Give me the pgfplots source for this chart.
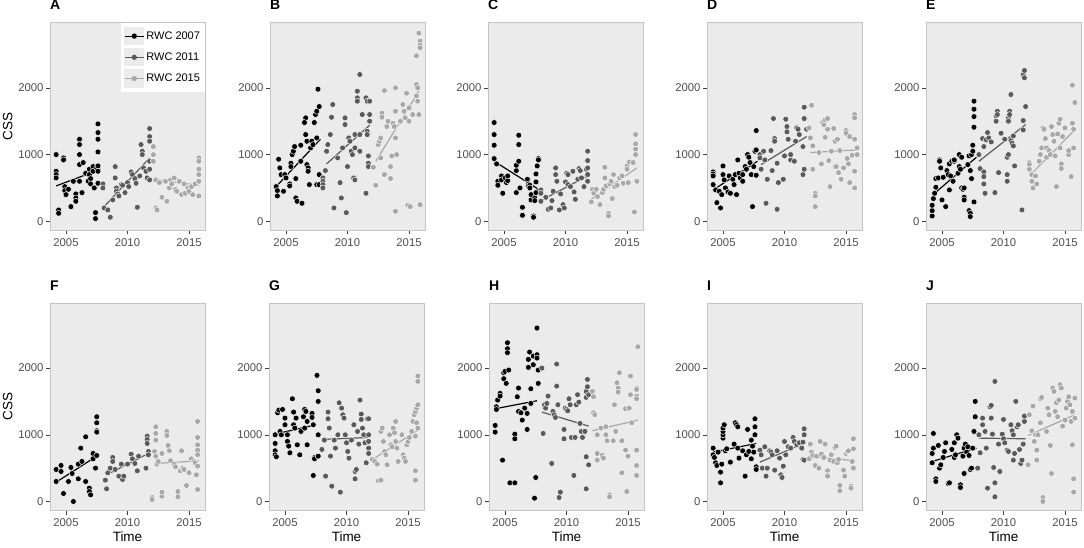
\documentclass[border=0pt]{standalone}
\usepackage{fontspec}
\setmainfont{Liberation Sans}
\usepackage{pgfplots}
\pgfplotsset{compat=1.18}
\definecolor{cA}{HTML}{000000}
\definecolor{cB}{HTML}{5A5A5A}
\definecolor{cC}{HTML}{A8A8A8}
\definecolor{panelbg}{HTML}{EBEBEB}
\definecolor{bordergray}{HTML}{C4C4C4}
\definecolor{tickgray}{HTML}{4D4D4D}
\pgfplotsset{
  panel/.style={
    scale only axis, width=155pt, height=207.5pt,
    xmin=2003.7, xmax=2016.3, ymin=-135, ymax=2975,
    xtick={2005,2010,2015}, ytick={0,1000,2000},
    axis background/.style={fill=panelbg},
    axis line style={draw=bordergray, line width=0.8pt},
    tick pos=left, tick align=outside,
    major tick length=4pt,
    every tick/.style={draw=tickgray!80!black, line width=0.5pt},
    ticklabel style={font=\fontsize{11.3}{12}\selectfont, text=tickgray},
    yticklabel style={xshift=1pt},
    xticklabel style={yshift=-0.5pt},
    /pgf/number format/set thousands separator={},
    /pgf/number format/assume math mode=true,
    title style={at={(0,1)}, anchor=base west, yshift=7pt, inner sep=0pt, font=\fontsize{14}{15}\selectfont\bfseries},
    xlabel style={font=\fontsize{13.5}{14}\selectfont, at={(axis description cs:0.5,-0.125)}, anchor=center},
    ylabel style={font=\fontsize{13.5}{14}\selectfont, at={(axis description cs:-0.272,0.5)}, anchor=center},
  },
  sA/.style={only marks, mark=*, mark size=2.95pt, mark options={draw=white, fill=cA, line width=0.45pt}},
  sB/.style={only marks, mark=*, mark size=2.95pt, mark options={draw=white, fill=cB, line width=0.45pt}},
  sC/.style={only marks, mark=*, mark size=2.95pt, mark options={draw=white, fill=cC, line width=0.45pt}},
  lA/.style={no marks, draw=cA, line width=1.2pt},
  lB/.style={no marks, draw=cB, line width=1.2pt},
  lC/.style={no marks, draw=cC, line width=1.2pt},
}
\begin{document}
\begin{tikzpicture}
\path[use as bounding box] (0,0) rectangle (1084pt,-547pt);

%%%%%%%%%%%%%%%%%%%% A
\begin{axis}[panel, at={(50pt,-22.8pt)}, anchor=north west, title={A}, ylabel={CSS},
  legend style={at={(rel axis cs:0.458,1)}, anchor=north west, draw=none, fill=white,
    font=\fontsize{11}{12}\selectfont, inner xsep=3pt, inner ysep=4pt, row sep=3pt,
    legend cell align=left},
  legend image code/.code={
    \fill[panelbg] (0pt,-8.5pt) rectangle (19pt,8.5pt);
    \draw[mark repeat=2,mark phase=2,#1] plot coordinates {(0pt,0pt) (9.5pt,0pt) (19pt,0pt)};}
  ]
\addlegendimage{cA, line width=1.2pt, mark=*, mark size=2pt, mark options={fill=cA}}
\addlegendentry{RWC 2007}
\addlegendimage{cB, line width=1.2pt, mark=*, mark size=2pt, mark options={fill=cB}}
\addlegendentry{RWC 2011}
\addlegendimage{cC, line width=1.2pt, mark=*, mark size=2pt, mark options={fill=cC}}
\addlegendentry{RWC 2015}
\addplot[sA, forget plot] coordinates {(2004.2,1000) (2004.2,750) (2004.2,700) (2004.2,650) (2004.4,170) (2004.4,120) (2004.8,950) (2004.8,920) (2004.9,520) (2004.9,460) (2005.0,400) (2005.2,480) (2005.4,220) (2005.6,600) (2005.8,410) (2005.8,350) (2005.8,300) (2006.1,1230) (2006.1,1150) (2006.1,1000) (2006.1,850) (2006.1,600) (2006.3,430) (2006.4,880) (2006.6,720) (2006.8,600) (2006.9,780) (2006.9,700) (2007.0,640) (2007.0,560) (2007.2,820) (2007.2,750) (2007.3,500) (2007.4,130) (2007.4,40) (2007.5,800) (2007.6,1460) (2007.6,1330) (2007.6,1230) (2007.6,1040) (2007.6,830) (2007.6,750) (2007.6,570)};
\addplot[lA, forget plot] coordinates {(2004.2,530) (2007.8,780)};
\addplot[sB, forget plot] coordinates {(2008.0,560) (2008.0,500) (2008.1,200) (2008.4,170) (2008.6,60) (2008.8,320) (2009.0,820) (2009.0,650) (2009.1,500) (2009.1,450) (2009.2,410) (2009.3,380) (2009.5,550) (2009.6,540) (2009.8,430) (2010.0,580) (2010.1,520) (2010.3,740) (2010.4,700) (2010.6,640) (2010.7,570) (2010.8,210) (2011.0,680) (2011.1,1150) (2011.2,1050) (2011.2,1000) (2011.3,800) (2011.5,750) (2011.6,650) (2011.8,1390) (2011.8,1270) (2011.8,1200) (2011.8,900) (2011.8,780) (2011.8,620)};
\addplot[lB, forget plot] coordinates {(2008.1,220) (2011.8,950)};
\addplot[sC, forget plot] coordinates {(2012.1,1120) (2012.1,1000) (2012.1,900) (2012.3,200) (2012.4,170) (2012.3,620) (2012.6,580) (2012.8,360) (2013.1,600) (2013.2,300) (2013.4,500) (2013.5,620) (2013.6,560) (2013.8,650) (2013.9,480) (2014.0,450) (2014.2,600) (2014.4,400) (2014.6,560) (2014.7,420) (2014.9,500) (2015.0,450) (2015.2,520) (2015.3,400) (2015.5,560) (2015.8,950) (2015.8,900) (2015.8,780) (2015.8,700) (2015.8,600) (2015.8,380)};
\addplot[lC, forget plot] coordinates {(2012.1,630) (2015.8,540)};
\end{axis}

%%%%%%%%%%%%%%%%%%%% B
\begin{axis}[panel, at={(270pt,-22.8pt)}, anchor=north west, title={B}]
\addplot[sA] coordinates {(2004.2,520) (2004.3,460) (2004.3,380) (2004.4,930) (2004.5,800) (2004.6,700) (2004.8,450) (2004.9,700) (2005.0,650) (2005.3,560) (2005.3,530) (2005.4,870) (2005.4,820) (2005.5,1000) (2005.6,1050) (2005.7,1120) (2005.8,640) (2005.8,350) (2005.9,300) (2006.2,1140) (2006.2,900) (2006.3,270) (2006.6,1550) (2006.5,1480) (2006.6,1300) (2006.7,1200) (2006.7,850) (2006.8,800) (2006.8,750) (2006.9,550) (2007.0,1100) (2007.1,1200) (2007.2,1150) (2007.3,1480) (2007.4,1600) (2007.5,1650) (2007.5,1250) (2007.5,550) (2007.6,1980) (2007.7,1720) (2007.7,700) (2007.7,550)};
\addplot[lA] coordinates {(2004.2,520) (2007.8,1230)};
\addplot[sB] coordinates {(2008.0,650) (2008.0,600) (2008.0,550) (2008.0,500) (2008.2,760) (2008.3,1050) (2008.4,1150) (2008.6,1300) (2008.7,1560) (2008.8,1750) (2008.9,200) (2009.2,950) (2009.4,580) (2009.5,350) (2009.6,1100) (2009.8,1550) (2009.8,1450) (2009.9,130) (2010.0,820) (2010.1,1250) (2010.2,1200) (2010.3,1050) (2010.4,1000) (2010.5,650) (2010.6,620) (2010.6,1300) (2010.6,1100) (2010.8,1950) (2010.8,1850) (2010.8,1800) (2011.0,2200) (2011.0,1300) (2011.2,1600) (2011.0,1050) (2011.5,1850) (2011.6,1800) (2011.6,1350) (2011.6,1300) (2011.7,980) (2011.7,870) (2011.7,820) (2011.8,1800) (2011.8,1600) (2011.8,1500) (2011.5,420)};
\addplot[lB] coordinates {(2008.3,860) (2011.8,1440)};
\addplot[sC] coordinates {(2012.1,810) (2012.3,540) (2012.5,1150) (2012.6,1200) (2012.7,1250) (2012.7,950) (2012.8,1620) (2012.8,1560) (2013.0,1960) (2013.0,700) (2013.2,1420) (2013.3,1500) (2013.5,820) (2013.5,640) (2013.6,980) (2013.7,1470) (2013.8,1420) (2013.9,2000) (2013.9,1650) (2013.9,1250) (2013.9,150) (2014.0,1000) (2014.3,1500) (2014.5,1750) (2014.6,1650) (2014.7,1550) (2014.8,1920) (2014.9,240) (2015.0,1700) (2015.0,1500) (2015.1,220) (2015.3,1600) (2015.6,2050) (2015.6,1880) (2015.7,2000) (2015.7,1800) (2015.8,1600) (2015.8,2820) (2015.9,2700) (2015.9,2640) (2015.9,2600) (2015.6,2480) (2015.9,250)};
\addplot[lC] coordinates {(2012.3,900) (2015.8,1950)};
\end{axis}

%%%%%%%%%%%%%%%%%%%% C
\begin{axis}[panel, at={(488pt,-22.8pt)}, anchor=north west, title={C}]
\addplot[sA] coordinates {(2004.2,1480) (2004.2,1300) (2004.2,1140) (2004.2,940) (2004.4,860) (2004.5,600) (2004.5,540) (2004.8,680) (2004.8,620) (2004.9,420) (2005.1,650) (2005.2,580) (2005.3,610) (2005.3,680) (2006.0,430) (2006.0,760) (2006.0,840) (2006.2,1290) (2006.2,1150) (2006.2,900) (2006.3,500) (2006.5,210) (2006.5,90) (2006.9,630) (2007.0,560) (2007.0,530) (2007.1,540) (2007.1,500) (2007.2,320) (2007.2,400) (2007.4,80) (2007.4,60) (2007.5,350) (2007.5,310) (2007.6,590) (2007.6,710) (2007.7,830) (2007.8,940) (2007.8,920) (2007.8,450) (2007.6,430)};
\addplot[lA] coordinates {(2004.2,900) (2007.8,480)};
\addplot[sB] coordinates {(2008.0,470) (2008.0,420) (2008.0,300) (2008.4,360) (2008.6,180) (2008.8,200) (2008.9,310) (2009.0,450) (2009.2,800) (2009.2,700) (2009.3,600) (2009.5,170) (2009.6,410) (2009.8,250) (2009.9,200) (2010.0,590) (2010.1,720) (2010.2,700) (2010.2,550) (2010.4,520) (2010.6,750) (2010.7,440) (2010.8,330) (2011.0,630) (2011.1,790) (2011.2,760) (2011.3,650) (2011.5,520) (2011.7,780) (2011.8,1050) (2011.8,910) (2011.8,800) (2011.8,700) (2011.8,600)};
\addplot[lB] coordinates {(2008.1,320) (2011.8,680)};
\addplot[sC] coordinates {(2012.1,290) (2012.2,480) (2012.3,420) (2012.5,480) (2012.6,370) (2012.8,250) (2013.0,430) (2013.1,480) (2013.2,810) (2013.2,650) (2013.3,530) (2013.5,120) (2013.5,80) (2013.6,560) (2013.7,600) (2013.8,340) (2013.9,700) (2014.0,520) (2014.2,540) (2014.4,650) (2014.6,680) (2014.7,570) (2015.0,830) (2015.0,780) (2015.1,580) (2015.2,890) (2015.5,880) (2015.6,140) (2015.7,1300) (2015.7,1160) (2015.7,1080) (2015.7,1000) (2015.8,600)};
\addplot[lC] coordinates {(2012.1,330) (2015.8,800)};
\end{axis}

%%%%%%%%%%%%%%%%%%%% D
\begin{axis}[panel, at={(707pt,-22.8pt)}, anchor=north west, title={D}]
\addplot[sA] coordinates {(2004.2,740) (2004.2,710) (2004.2,680) (2004.2,550) (2004.4,470) (2004.5,280) (2004.7,450) (2004.8,200) (2004.9,400) (2005.0,830) (2005.0,700) (2005.1,620) (2005.2,500) (2005.4,440) (2005.5,680) (2005.6,420) (2005.8,630) (2005.9,550) (2006.0,700) (2006.1,400) (2006.2,920) (2006.3,720) (2006.4,650) (2006.6,700) (2006.6,600) (2006.8,820) (2006.9,780) (2007.0,1000) (2007.1,960) (2007.2,880) (2007.3,700) (2007.4,220) (2007.5,820) (2007.6,1050) (2007.7,1360) (2007.7,1070) (2007.7,690)};
\addplot[lA] coordinates {(2004.2,470) (2007.8,900)};
\addplot[sB] coordinates {(2008.0,1000) (2008.0,950) (2008.1,780) (2008.3,1050) (2008.4,920) (2008.5,270) (2008.6,630) (2008.9,1060) (2009.0,760) (2009.1,1540) (2009.2,1240) (2009.2,1200) (2009.4,870) (2009.4,180) (2009.5,580) (2009.9,630) (2010.0,980) (2010.1,1530) (2010.2,1420) (2010.2,1340) (2010.3,1230) (2010.5,920) (2010.5,1000) (2010.8,900) (2010.9,1200) (2011.0,1400) (2011.1,1380) (2011.2,1300) (2011.5,1120) (2011.5,700) (2011.6,780) (2011.6,1710) (2011.6,1540) (2011.8,1380)};
\addplot[lB] coordinates {(2008.1,850) (2011.8,1270)};
\addplot[sC] coordinates {(2012.0,1400) (2012.1,1250) (2012.2,1740) (2012.3,1130) (2012.3,780) (2012.5,420) (2012.5,380) (2012.5,220) (2012.8,1030) (2013.0,860) (2013.1,1480) (2013.2,1450) (2013.3,1520) (2013.3,1260) (2013.5,1380) (2013.5,1540) (2013.6,910) (2013.7,520) (2013.8,1050) (2014.0,1390) (2014.1,1200) (2014.1,820) (2014.2,820) (2014.3,1230) (2014.4,730) (2014.5,1060) (2014.6,630) (2014.8,800) (2015.0,1360) (2015.0,1320) (2015.1,940) (2015.2,860) (2015.3,1270) (2015.3,580) (2015.5,990) (2015.7,1600) (2015.7,1550) (2015.7,1230) (2015.7,750) (2015.7,500) (2015.9,1100) (2015.9,1000)};
\addplot[lC] coordinates {(2012.1,1030) (2015.9,1070)};
\end{axis}

%%%%%%%%%%%%%%%%%%%% E
\begin{axis}[panel, at={(926pt,-22.8pt)}, anchor=north west, title={E}]
\addplot[sA] coordinates {(2004.2,80) (2004.2,160) (2004.2,240) (2004.3,340) (2004.4,420) (2004.5,510) (2004.5,640) (2004.7,650) (2004.8,920) (2004.8,900) (2004.9,800) (2005.0,320) (2005.1,660) (2005.3,220) (2005.4,760) (2005.5,700) (2005.6,860) (2005.6,470) (2005.7,680) (2005.8,900) (2005.9,600) (2006.0,900) (2006.0,920) (2006.3,720) (2006.4,820) (2006.4,1000) (2006.5,780) (2006.6,960) (2006.6,500) (2006.7,480) (2006.8,360) (2006.8,320) (2006.8,500) (2007.1,850) (2007.2,980) (2007.2,160) (2007.3,120) (2007.3,70) (2007.3,760) (2007.4,640) (2007.4,1000) (2007.5,1140) (2007.5,1050) (2007.6,1800) (2007.6,1680) (2007.6,1570) (2007.6,1410) (2007.6,290)};
\addplot[lA] coordinates {(2004.4,420) (2007.8,960)};
\addplot[sB] coordinates {(2008.0,1000) (2008.1,790) (2008.3,1240) (2008.4,1120) (2008.4,740) (2008.4,670) (2008.4,560) (2008.5,420) (2008.6,1220) (2008.7,1330) (2008.8,1250) (2009.0,1190) (2009.3,430) (2009.4,1580) (2009.4,1500) (2009.5,1650) (2009.5,1600) (2009.6,730) (2009.8,1320) (2010.1,1230) (2010.3,600) (2010.3,700) (2010.3,960) (2010.4,1000) (2010.4,1550) (2010.4,1500) (2010.5,1650) (2010.5,1600) (2010.6,1900) (2010.6,1210) (2010.7,1170) (2010.8,1130) (2010.8,1280) (2010.9,830) (2011.5,170) (2011.6,2200) (2011.7,2260) (2011.7,2150) (2011.6,1510) (2011.6,1370) (2011.8,1720)};
\addplot[lB] coordinates {(2008.0,900) (2011.8,1450)};
\addplot[sC] coordinates {(2012.1,880) (2012.1,850) (2012.1,780) (2012.3,700) (2012.3,600) (2012.4,500) (2012.6,680) (2012.7,560) (2012.9,900) (2013.0,1000) (2013.1,1100) (2013.2,1400) (2013.3,1380) (2013.4,1240) (2013.5,1100) (2013.5,960) (2013.7,1060) (2013.8,1000) (2013.9,1420) (2014.0,1300) (2014.1,1200) (2014.2,980) (2014.3,520) (2014.4,1310) (2014.5,1470) (2014.6,1530) (2014.6,1100) (2014.7,860) (2014.7,790) (2014.8,1270) (2015.0,1400) (2015.3,1000) (2015.3,1060) (2015.5,670) (2015.6,2040) (2015.6,1470) (2015.7,1380) (2015.7,1100) (2015.8,1780)};
\addplot[lC] coordinates {(2012.2,700) (2015.8,1370)};
\end{axis}

%%%%%%%%%%%%%%%%%%%% F
\begin{axis}[panel, at={(50pt,-303pt)}, anchor=north west, title={F}, ylabel={CSS}, xlabel={Time}]
\addplot[sA] coordinates {(2004.2,480) (2004.2,300) (2004.6,540) (2004.6,450) (2004.8,120) (2005.2,300) (2005.4,510) (2005.5,420) (2005.6,0) (2006.0,340) (2006.0,560) (2006.2,800) (2006.3,600) (2006.6,970) (2006.6,300) (2006.9,200) (2006.9,150) (2007.0,100) (2007.2,720) (2007.2,640) (2007.4,500) (2007.5,1270) (2007.5,1180) (2007.5,1060) (2007.5,1040) (2007.5,690)};
\addplot[lA] coordinates {(2004.2,290) (2007.5,680)};
\addplot[sB] coordinates {(2008.2,320) (2008.3,190) (2008.4,430) (2008.6,500) (2008.8,660) (2008.8,600) (2009.0,480) (2009.3,380) (2009.5,560) (2009.6,330) (2009.7,380) (2010.0,560) (2010.3,710) (2010.4,640) (2010.6,570) (2010.8,460) (2010.9,680) (2011.5,500) (2011.6,980) (2011.6,930) (2011.6,870) (2011.7,750) (2011.7,700)};
\addplot[lB] coordinates {(2008.3,400) (2011.8,730)};
\addplot[sC] coordinates {(2012.0,60) (2012.0,30) (2012.2,750) (2012.3,1120) (2012.3,1020) (2012.3,920) (2012.3,680) (2012.4,560) (2012.5,600) (2012.8,720) (2012.8,80) (2012.8,140) (2013.2,1050) (2013.2,990) (2013.3,840) (2013.4,760) (2013.5,610) (2013.8,560) (2013.9,520) (2014.1,150) (2014.1,70) (2014.3,460) (2014.4,760) (2014.5,500) (2014.6,480) (2014.8,240) (2015.0,430) (2015.2,640) (2015.4,600) (2015.5,580) (2015.6,400) (2015.7,1200) (2015.7,960) (2015.7,850) (2015.7,770) (2015.7,700) (2015.7,530) (2015.7,180)};
\addplot[lC] coordinates {(2012.3,570) (2015.8,610)};
\end{axis}

%%%%%%%%%%%%%%%%%%%% G
\begin{axis}[panel, at={(269pt,-303pt)}, anchor=north west, title={G}, xlabel={Time}]
\addplot[sA] coordinates {(2004.2,1000) (2004.2,870) (2004.2,760) (2004.2,700) (2004.3,670) (2004.4,1330) (2004.5,1370) (2004.6,1050) (2004.7,1000) (2004.8,1380) (2005.0,1250) (2005.0,1150) (2005.2,1000) (2005.2,900) (2005.3,830) (2005.4,730) (2005.6,1540) (2005.7,1340) (2005.7,1150) (2005.8,1100) (2005.9,1250) (2006.0,850) (2006.2,700) (2006.3,1050) (2006.5,1270) (2006.6,1380) (2006.6,1100) (2006.7,1350) (2006.8,1200) (2006.8,850) (2007.2,1320) (2007.2,1260) (2007.3,1150) (2007.4,660) (2007.4,640) (2007.3,390) (2007.6,1890) (2007.7,1660) (2007.7,1500) (2007.7,1000) (2007.7,680)};
\addplot[lA] coordinates {(2004.2,1010) (2007.5,1150)};
\addplot[sB] coordinates {(2008.0,780) (2008.2,920) (2008.3,380) (2008.5,1340) (2008.5,1240) (2008.6,1100) (2008.7,680) (2008.8,230) (2009.0,920) (2009.1,800) (2009.3,1000) (2009.4,1480) (2009.5,140) (2009.6,1400) (2009.7,1300) (2009.8,1250) (2009.9,1000) (2010.0,880) (2010.1,750) (2010.2,650) (2010.4,920) (2010.6,1150) (2010.7,340) (2010.7,450) (2010.8,480) (2010.9,1050) (2011.0,860) (2011.1,1520) (2011.2,1310) (2011.2,1230) (2011.3,1100) (2011.4,1000) (2011.5,880) (2011.6,580) (2011.7,1240) (2011.8,1240) (2011.8,1000) (2011.8,900) (2011.8,800) (2011.8,720)};
\addplot[lB] coordinates {(2008.0,930) (2011.8,960)};
\addplot[sC] coordinates {(2012.1,630) (2012.3,600) (2012.5,560) (2012.6,310) (2012.8,320) (2012.8,1050) (2012.9,1100) (2013.0,900) (2013.1,750) (2013.2,700) (2013.3,550) (2013.5,1000) (2013.6,850) (2013.7,820) (2013.8,1100) (2013.9,1030) (2014.0,1200) (2014.0,900) (2014.1,800) (2014.2,600) (2014.5,1000) (2014.6,700) (2014.7,650) (2014.8,600) (2014.9,850) (2015.0,900) (2015.1,960) (2015.3,1050) (2015.4,1200) (2015.5,1300) (2015.6,1350) (2015.7,1400) (2015.8,1450) (2015.8,1880) (2015.8,1800) (2015.7,1180) (2015.6,460) (2015.6,320) (2015.8,1100) (2015.6,980)};
\addplot[lC] coordinates {(2012.2,640) (2015.8,1070)};
\end{axis}

%%%%%%%%%%%%%%%%%%%% H
\begin{axis}[panel, at={(489pt,-303pt)}, anchor=north west, title={H}, xlabel={Time}]
\addplot[sA] coordinates {(2004.2,1140) (2004.2,1040) (2004.3,1420) (2004.3,1380) (2004.4,1520) (2004.6,1620) (2004.6,1580) (2004.9,1840) (2004.9,1930) (2004.8,620) (2005.0,1950) (2005.1,1770) (2005.2,2380) (2005.2,2290) (2005.2,2230) (2005.3,1970) (2005.4,280) (2005.8,280) (2005.8,1010) (2005.8,940) (2006.0,1570) (2006.1,1700) (2006.1,1350) (2006.3,1330) (2006.4,1220) (2006.6,1400) (2006.8,1320) (2006.8,1080) (2006.9,2130) (2006.9,2010) (2007.0,2240) (2007.1,1690) (2007.1,1470) (2007.3,2180) (2007.3,2050) (2007.4,50) (2007.5,360) (2007.6,2600) (2007.6,2200) (2007.6,2150) (2007.7,1970) (2007.7,1770)};
\addplot[lA] coordinates {(2004.2,1390) (2007.6,1510)};
\addplot[sB] coordinates {(2008.0,2000) (2008.1,1020) (2008.2,1450) (2008.3,1400) (2008.4,1470) (2008.5,1580) (2008.8,570) (2008.9,1350) (2009.0,1300) (2009.1,1260) (2009.2,2060) (2009.2,1730) (2009.3,1450) (2009.4,60) (2009.5,140) (2009.8,1080) (2009.8,940) (2009.9,1400) (2010.0,1380) (2010.1,1360) (2010.2,1540) (2010.3,1450) (2010.4,960) (2010.6,390) (2010.7,960) (2010.8,1450) (2010.9,1600) (2011.0,1490) (2011.1,1170) (2011.2,1050) (2011.3,960) (2011.5,1050) (2011.6,670) (2011.6,190) (2011.6,1650) (2011.6,1560) (2011.7,1830) (2011.7,1720) (2011.8,1600) (2011.8,550)};
\addplot[lB] coordinates {(2008.0,1340) (2011.8,1130)};
\addplot[sC] coordinates {(2012.1,1650) (2012.2,1570) (2012.2,1330) (2012.3,1300) (2012.5,1000) (2012.5,720) (2012.5,620) (2012.8,1100) (2012.9,690) (2013.0,650) (2013.2,1120) (2013.2,1000) (2013.3,910) (2013.5,100) (2013.5,70) (2013.8,910) (2013.9,1450) (2014.0,1050) (2014.1,1780) (2014.2,1700) (2014.2,1640) (2014.3,1930) (2014.5,910) (2014.5,430) (2014.8,1390) (2014.8,770) (2014.9,150) (2015.0,680) (2015.1,1400) (2015.2,1600) (2015.2,1880) (2015.3,1180) (2015.7,1700) (2015.7,1680) (2015.7,1580) (2015.7,1540) (2015.7,770) (2015.7,540) (2015.7,390) (2015.8,2320)};
\addplot[lC] coordinates {(2012.1,1060) (2015.8,1220)};
\end{axis}

%%%%%%%%%%%%%%%%%%%% I
\begin{axis}[panel, at={(707pt,-303pt)}, anchor=north west, title={I}, xlabel={Time}]
\addplot[sA] coordinates {(2004.2,800) (2004.2,700) (2004.3,660) (2004.4,580) (2004.5,540) (2004.6,740) (2004.8,280) (2004.8,440) (2004.9,560) (2005.0,950) (2005.0,1000) (2005.0,1050) (2005.0,1100) (2005.1,1150) (2005.2,760) (2005.3,790) (2005.6,590) (2005.9,860) (2006.0,1180) (2006.1,1150) (2006.2,1120) (2006.2,800) (2006.3,650) (2006.6,760) (2006.8,380) (2006.9,700) (2007.0,1080) (2007.1,750) (2007.3,640) (2007.3,920) (2007.4,830) (2007.5,740) (2007.6,1240) (2007.6,1120) (2007.6,1000) (2007.7,520) (2007.7,480)};
\addplot[lA] coordinates {(2004.2,740) (2007.7,870)};
\addplot[sB] coordinates {(2008.0,770) (2008.1,700) (2008.2,500) (2008.4,820) (2008.5,380) (2008.6,500) (2008.8,760) (2008.9,740) (2009.0,700) (2009.2,470) (2009.4,760) (2009.6,650) (2009.7,400) (2009.8,360) (2009.9,530) (2010.0,900) (2010.1,700) (2010.3,820) (2010.5,800) (2010.7,960) (2010.8,900) (2011.0,850) (2011.2,880) (2011.4,800) (2011.5,630) (2011.5,890) (2011.6,1000) (2011.6,1090) (2011.6,620)};
\addplot[lB] coordinates {(2008.0,590) (2011.7,880)};
\addplot[sC] coordinates {(2012.0,640) (2012.1,860) (2012.2,740) (2012.3,690) (2012.5,540) (2012.6,680) (2012.8,500) (2012.9,900) (2013.0,710) (2013.2,660) (2013.3,860) (2013.5,460) (2013.5,400) (2013.5,380) (2013.7,620) (2013.8,700) (2014.0,600) (2014.1,810) (2014.2,830) (2014.3,580) (2014.4,630) (2014.5,240) (2014.5,160) (2014.8,470) (2014.9,380) (2015.0,720) (2015.1,750) (2015.2,760) (2015.4,230) (2015.4,200) (2015.5,600) (2015.6,940) (2015.6,790) (2015.6,500)};
\addplot[lC] coordinates {(2012.0,680) (2015.7,610)};
\end{axis}

%%%%%%%%%%%%%%%%%%%% J
\begin{axis}[panel, at={(926pt,-303pt)}, anchor=north west, title={J}, xlabel={Time}]
\addplot[sA] coordinates {(2004.2,720) (2004.2,580) (2004.3,1020) (2004.3,800) (2004.5,340) (2004.5,300) (2004.7,840) (2004.8,500) (2004.9,550) (2005.1,660) (2005.2,750) (2005.3,880) (2005.5,270) (2005.6,280) (2005.8,780) (2006.0,880) (2006.0,660) (2006.1,700) (2006.2,1000) (2006.3,950) (2006.5,250) (2006.5,210) (2006.7,680) (2006.8,800) (2006.8,420) (2006.9,860) (2007.0,740) (2007.1,820) (2007.2,690) (2007.3,480) (2007.4,500) (2007.5,800) (2007.6,1050) (2007.7,1270) (2007.7,1500)};
\addplot[lA] coordinates {(2004.2,600) (2007.8,800)};
\addplot[sB] coordinates {(2007.9,500) (2008.0,1000) (2008.1,730) (2008.3,1250) (2008.3,1150) (2008.5,1050) (2008.6,800) (2008.7,200) (2008.9,1420) (2009.0,1440) (2009.0,1250) (2009.1,1010) (2009.2,510) (2009.3,1800) (2009.3,280) (2009.3,70) (2009.6,860) (2009.7,450) (2009.9,1010) (2010.0,940) (2010.0,1230) (2010.1,880) (2010.3,770) (2010.4,750) (2010.6,1150) (2010.7,1060) (2010.8,1000) (2010.8,620) (2010.9,720) (2011.0,1500) (2011.1,1120) (2011.2,1150) (2011.3,780) (2011.4,570) (2011.5,620) (2011.6,860) (2011.7,1200) (2011.7,1280)};
\addplot[lB] coordinates {(2008.0,950) (2011.8,940)};
\addplot[sC] coordinates {(2012.0,550) (2012.1,1300) (2012.3,1060) (2012.4,1430) (2012.5,900) (2012.6,1000) (2012.7,770) (2012.7,620) (2012.8,1000) (2013.0,1180) (2013.0,1540) (2013.1,1560) (2013.2,60) (2013.2,0) (2013.5,1050) (2013.6,1400) (2013.7,1300) (2013.8,840) (2013.9,420) (2014.0,1700) (2014.1,1650) (2014.2,1350) (2014.3,1480) (2014.4,1270) (2014.5,1520) (2014.6,1750) (2014.7,1700) (2014.8,1130) (2015.0,1220) (2015.1,1400) (2015.2,1500) (2015.3,1570) (2015.4,1450) (2015.5,1200) (2015.6,850) (2015.6,1350) (2015.7,340) (2015.7,140) (2015.8,1550) (2015.8,1250)};
\addplot[lC] coordinates {(2012.0,990) (2015.8,1300)};
\end{axis}
\end{tikzpicture}
\end{document}
